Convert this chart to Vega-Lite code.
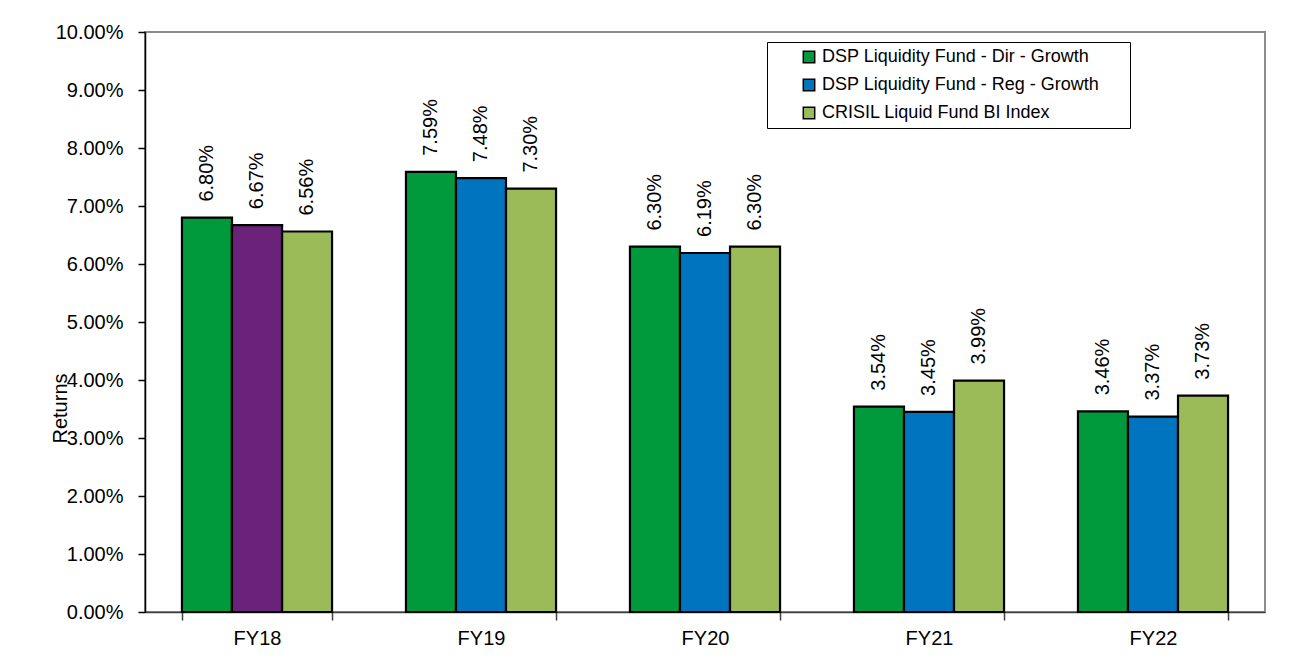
{
  "$schema": "https://vega.github.io/schema/vega-lite/v6.json",
  "autosize": {"type": "none"},
  "width": 1120,
  "height": 580,
  "padding": {"left": 145, "top": 32, "right": 27, "bottom": 59},
  "background": "white",
  "config": {
    "font": "Liberation Sans",
    "view": {"stroke": "#8c8c8c", "strokeWidth": 2},
    "axis": {"grid": false, "labelColor": "black", "titleColor": "black", "labelFont": "Liberation Sans", "titleFont": "Liberation Sans"}
  },
  "data": {
    "values": [
      {"year": "FY18", "series": "DSP Liquidity Fund - Dir - Growth", "value": 0.068},
      {"year": "FY18", "series": "DSP Liquidity Fund - Reg - Growth", "value": 0.0667},
      {"year": "FY18", "series": "CRISIL Liquid Fund BI Index", "value": 0.0656},
      {"year": "FY19", "series": "DSP Liquidity Fund - Dir - Growth", "value": 0.0759},
      {"year": "FY19", "series": "DSP Liquidity Fund - Reg - Growth", "value": 0.0748},
      {"year": "FY19", "series": "CRISIL Liquid Fund BI Index", "value": 0.073},
      {"year": "FY20", "series": "DSP Liquidity Fund - Dir - Growth", "value": 0.063},
      {"year": "FY20", "series": "DSP Liquidity Fund - Reg - Growth", "value": 0.0619},
      {"year": "FY20", "series": "CRISIL Liquid Fund BI Index", "value": 0.063},
      {"year": "FY21", "series": "DSP Liquidity Fund - Dir - Growth", "value": 0.0354},
      {"year": "FY21", "series": "DSP Liquidity Fund - Reg - Growth", "value": 0.0345},
      {"year": "FY21", "series": "CRISIL Liquid Fund BI Index", "value": 0.0399},
      {"year": "FY22", "series": "DSP Liquidity Fund - Dir - Growth", "value": 0.0346},
      {"year": "FY22", "series": "DSP Liquidity Fund - Reg - Growth", "value": 0.0337},
      {"year": "FY22", "series": "CRISIL Liquid Fund BI Index", "value": 0.0373}
    ]
  },
  "encoding": {
    "x": {
      "field": "year", "type": "nominal", "sort": null,
      "scale": {"paddingInner": 0.33, "paddingOuter": 0.165},
      "axis": {
        "title": null, "labelAngle": 0, "labelFontSize": 20, "labelPadding": 8,
        "tickBand": "extent", "tickSize": 8, "tickColor": "#404040", "tickWidth": 1.5,
        "domainColor": "#404040", "domainWidth": 1.5
      }
    },
    "xOffset": {
      "field": "series", "type": "nominal",
      "scale": {"domain": ["DSP Liquidity Fund - Dir - Growth", "DSP Liquidity Fund - Reg - Growth", "CRISIL Liquid Fund BI Index"]}
    },
    "y": {
      "field": "value", "type": "quantitative",
      "scale": {"domain": [0, 0.1], "nice": false},
      "axis": {
        "title": "Returns", "format": ".2%", "values": [0, 0.01, 0.02, 0.03, 0.04, 0.05, 0.06, 0.07, 0.08, 0.09, 0.1],
        "labelFontSize": 20, "labelPadding": 15, "tickSize": 7, "tickColor": "black", "tickWidth": 1.5,
        "domainColor": "black", "domainWidth": 1.5,
        "titleFontSize": 20, "titleFontWeight": "normal", "titleAngle": -90,
        "titleX": -85, "titleY": 376, "titleAlign": "center", "titleBaseline": "middle"
      }
    }
  },
  "layer": [
    {
      "mark": {"type": "bar", "stroke": "black", "strokeWidth": 2.2},
      "encoding": {
        "color": {
          "field": "series", "type": "nominal",
          "scale": {
            "domain": ["DSP Liquidity Fund - Dir - Growth", "DSP Liquidity Fund - Reg - Growth", "CRISIL Liquid Fund BI Index"],
            "range": ["#009A3D", "#0074BF", "#9BBB59"]
          },
          "legend": {
            "title": "\u2800\u2800",
            "titleOrient": "right", "titleFontSize": 14, "titlePadding": 5,
            "orient": "none", "legendX": 622, "legendY": 10,
            "strokeColor": "black", "fillColor": "white", "padding": 6,
            "symbolType": "square", "symbolSize": 130, "symbolStrokeColor": "black", "symbolStrokeWidth": 1.5,
            "symbolOpacity": 1, "symbolOffset": 27,
            "labelFontSize": 18, "labelColor": "black", "labelOffset": 4, "labelLimit": 400, "rowPadding": 10
          }
        }
      }
    },
    {
      "transform": [{"filter": "datum.year === 'FY18' && datum.series === 'DSP Liquidity Fund - Reg - Growth'"}],
      "mark": {"type": "bar", "stroke": "black", "strokeWidth": 2.2, "fill": "#6B2279"},
      "encoding": {}
    },
    {
      "mark": {"type": "text", "angle": 270, "align": "left", "baseline": "middle", "dx": 16, "fontSize": 20, "color": "black"},
      "encoding": {
        "text": {"field": "value", "type": "quantitative", "format": ".2%"}
      }
    }
  ]
}
